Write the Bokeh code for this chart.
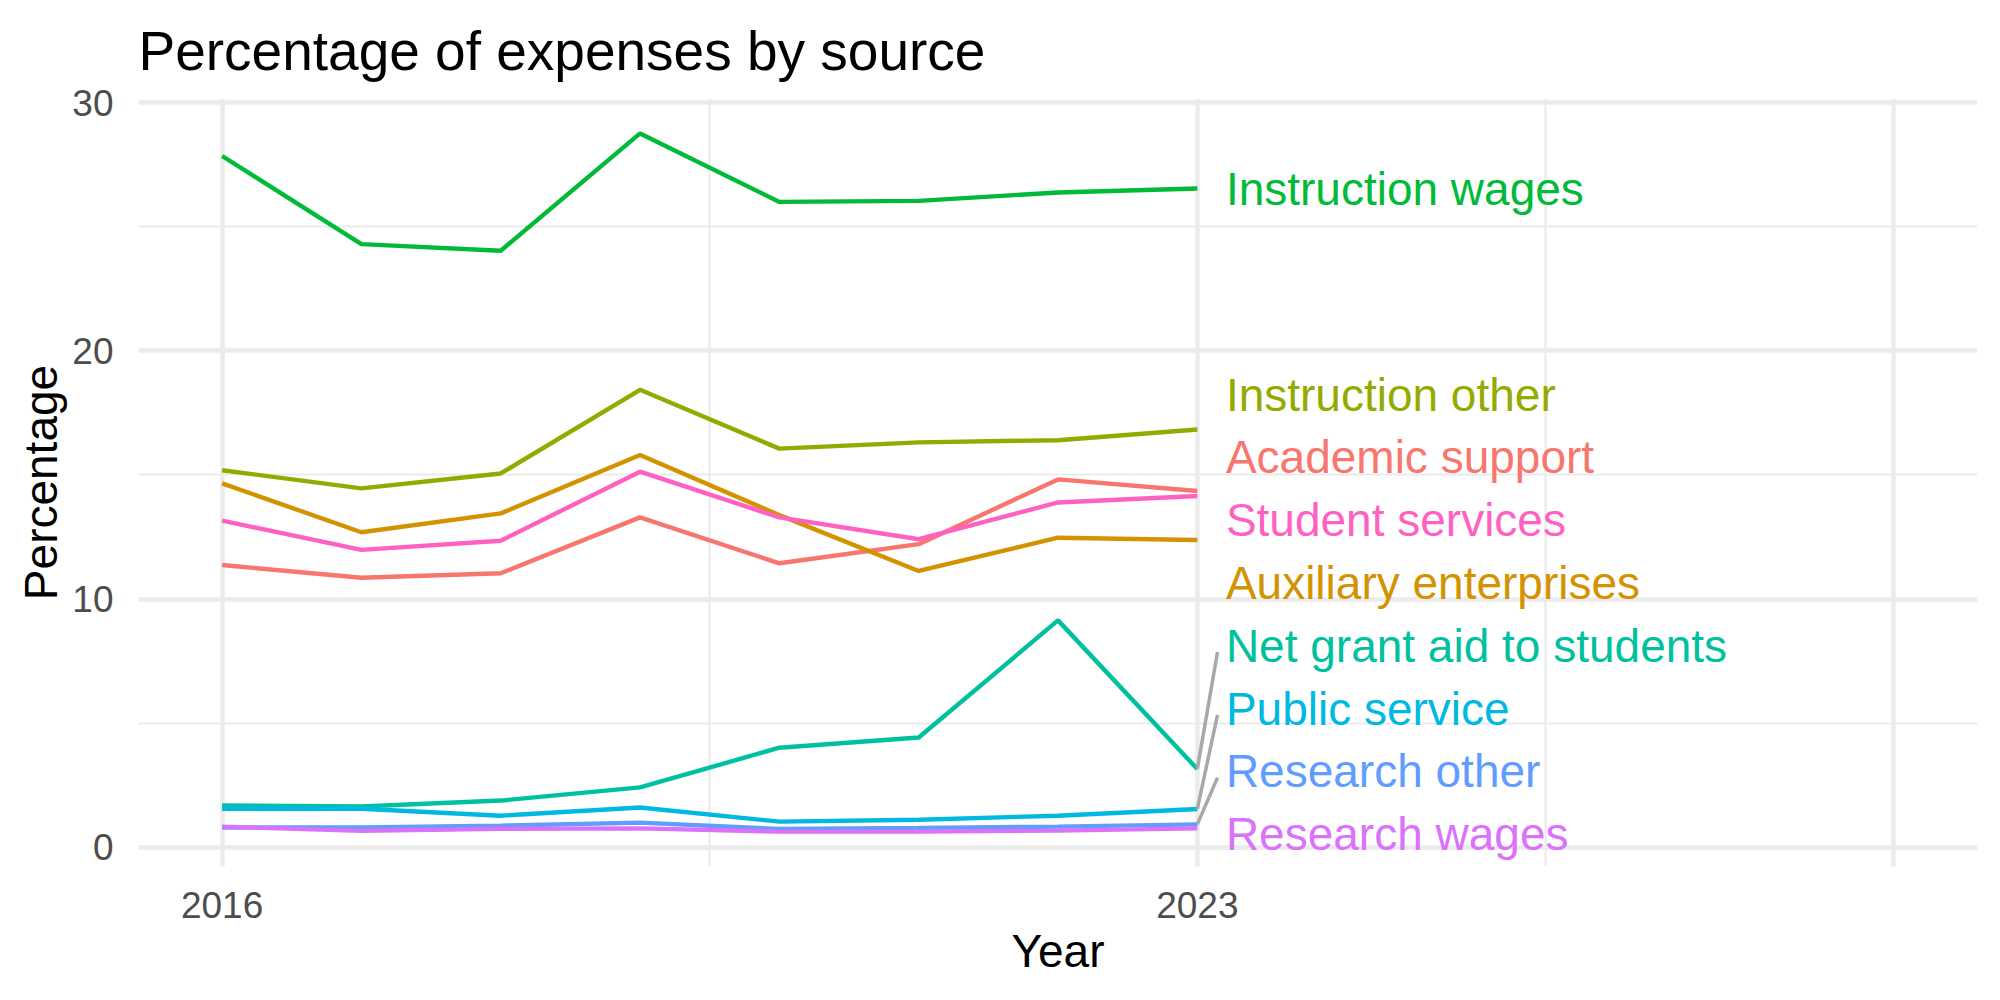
from bokeh.plotting import figure
from bokeh.models import Range1d, FixedTicker, ColumnDataSource
from bokeh.embed import file_html
from bokeh.resources import INLINE
from bokeh.core.properties import value

# ---- data: share of expenses (%) by source, per year ----
years = [2016, 2017, 2018, 2019, 2020, 2021, 2022, 2023]

sources = [
    "Academic support",
    "Auxiliary enterprises",
    "Instruction other",
    "Instruction wages",
    "Net grant aid to students",
    "Public service",
    "Research other",
    "Research wages",
    "Student services",
]

academic_support = [11.37, 10.86, 11.04, 13.29, 11.44, 12.21, 14.82, 14.35]
auxiliary_enterprises = [14.66, 12.69, 13.45, 15.80, 13.38, 11.13, 12.47, 12.38]
instruction_other = [15.19, 14.46, 15.06, 18.43, 16.06, 16.31, 16.40, 16.83]
instruction_wages = [27.85, 24.30, 24.03, 28.76, 26.00, 26.04, 26.38, 26.54]
net_grant_aid = [1.68, 1.64, 1.88, 2.41, 4.01, 4.42, 9.14, 3.15]
public_service = [1.55, 1.55, 1.27, 1.60, 1.03, 1.11, 1.27, 1.54]
research_other = [0.79, 0.80, 0.87, 0.99, 0.74, 0.78, 0.83, 0.92]
research_wages = [0.83, 0.66, 0.74, 0.76, 0.63, 0.63, 0.67, 0.76]
student_services = [13.16, 11.98, 12.35, 15.13, 13.29, 12.41, 13.89, 14.15]

series = [
    academic_support,
    auxiliary_enterprises,
    instruction_other,
    instruction_wages,
    net_grant_aid,
    public_service,
    research_other,
    research_wages,
    student_services,
]

x_ticks = [2016, 2023, 2028]
x_labels = {2028: ""}
y_ticks = [0, 10, 20, 30]

# ---- styling ----
palette = ["#F8766D", "#D39200", "#93AA00", "#00BA38", "#00C19F",
           "#00B9E3", "#619CFF", "#DB72FB", "#FF61C3"]
FONT = "Liberation Sans"
GRID = "#EBEBEB"

all_vals = [v for s in series for v in s]
y_lo, y_hi = min(all_vals), max(all_vals)
pad_y = 0.05 * (y_hi - y_lo)
x_lo, x_hi = years[0], x_ticks[-1]
pad_x = 0.05 * (x_hi - x_lo)

p = figure(
    width=2000, height=1000,
    x_range=Range1d(x_lo - pad_x, x_hi + pad_x),
    y_range=Range1d(y_lo - pad_y, y_hi + pad_y),
    output_backend="svg", toolbar_location=None,
    title="Percentage of expenses by source",
)
p.min_border_left = 138
p.min_border_right = 23
p.min_border_top = 98
p.min_border_bottom = 134
p.outline_line_color = None
p.background_fill_color = "white"
p.border_fill_color = "white"

# title
p.title.text_font = FONT
p.title.text_font_size = "55px"
p.title.text_font_style = "normal"
p.title.text_color = "black"
p.title.text_line_height = 1.0
p.title.align = "left"
p.title.offset = 0
p.title.standoff = 34

# ticks and grids
xt = FixedTicker(ticks=x_ticks, minor_ticks=[2019.5, 2025.5])
yt = FixedTicker(ticks=y_ticks, minor_ticks=[5, 15, 25])
p.xaxis.ticker = xt
p.yaxis.ticker = yt
p.xgrid.ticker = xt
p.ygrid.ticker = yt
p.xaxis.major_label_overrides = x_labels

for g in (p.xgrid, p.ygrid):
    g.grid_line_color = GRID
    g.grid_line_width = 4.4
    g.minor_grid_line_color = GRID
    g.minor_grid_line_width = 2.2

for ax in (p.xaxis, p.yaxis):
    ax.axis_line_color = None
    ax.major_tick_line_color = None
    ax.minor_tick_line_color = None
    ax.major_tick_out = 0
    ax.major_tick_in = 0
    ax.major_label_standoff = 21
    ax.major_label_text_font = FONT
    ax.major_label_text_font_size = "37px"
    ax.major_label_text_color = "#4D4D4D"
    ax.axis_label_text_font = FONT
    ax.axis_label_text_font_size = "46px"
    ax.axis_label_text_font_style = "normal"
    ax.axis_label_text_color = "black"

p.xaxis.axis_label = "Year"
p.yaxis.axis_label = "Percentage"
p.xaxis.axis_label_standoff = 4
p.yaxis.axis_label_standoff = 2

# lines
for vals, col in zip(series, palette):
    p.line(years, vals, line_color=col, line_width=4.4)

# ---- end labels: stack them with a minimum gap (pooled clusters) ----
gap = 2.53
floor = (y_lo - pad_y) + 1.30
last = [s[-1] for s in series]
order = sorted(range(len(series)), key=lambda i: last[i])

clusters = []  # each: [members, base]
for i in order:
    clusters.append([[i], last[i]])
    while True:
        c = clusters[-1]
        m = c[0]
        base = sum(last[k] - j * gap for j, k in enumerate(m)) / len(m)
        if len(clusters) == 1:
            base = max(base, floor)
        c[1] = base
        if len(clusters) > 1:
            prev = clusters[-2]
            if prev[1] + len(prev[0]) * gap > base:
                prev[0].extend(m)
                clusters.pop()
                continue
        break

label_y = [0.0] * len(series)
for members, base in clusters:
    for j, k in enumerate(members):
        label_y[k] = base + j * gap

label_x = years[-1] + 0.205
src = ColumnDataSource(dict(
    x=[label_x] * len(series), y=label_y, text=sources, color=palette,
))
p.text(x="x", y="y", text="text", text_color="color", source=src,
       text_font=value(FONT), text_font_size=value("46px"),
       text_baseline="middle", text_align="left")

# leader segments for labels pushed far from their line end
seg = dict(x0=[], y0=[], x1=[], y1=[])
for k in range(len(series)):
    if abs(label_y[k] - last[k]) > 2.0:
        seg["x0"].append(years[-1])
        seg["y0"].append(last[k])
        seg["x1"].append(label_x - 0.06)
        seg["y1"].append(label_y[k] - 0.25)
p.segment(x0="x0", y0="y0", x1="x1", y1="y1", source=ColumnDataSource(seg),
          line_color="#A8A8A8", line_width=3.5)

open("out.html", "w").write(file_html(p, INLINE))
